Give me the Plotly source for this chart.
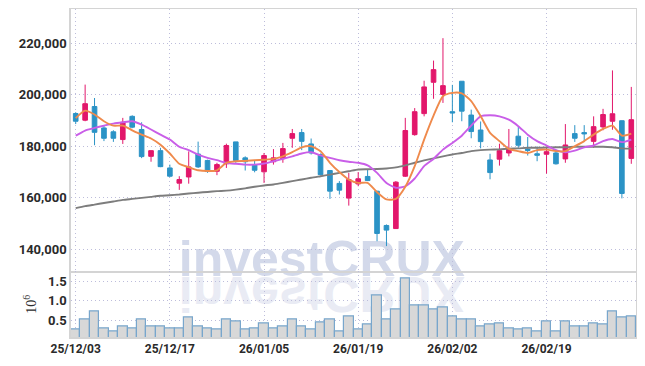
import plotly.graph_objects as go
from plotly.subplots import make_subplots

dates = ["25/12/03","25/12/04","25/12/05","25/12/08","25/12/09","25/12/10","25/12/11","25/12/12","25/12/15","25/12/16",
         "25/12/17","25/12/18","25/12/19","25/12/22","25/12/23","25/12/24","25/12/26","25/12/29","25/12/30","26/01/02",
         "26/01/05","26/01/06","26/01/07","26/01/08","26/01/09","26/01/12","26/01/13","26/01/14","26/01/15","26/01/16",
         "26/01/19","26/01/20","26/01/21","26/01/22","26/01/23","26/01/26","26/01/27","26/01/28","26/01/29","26/01/30",
         "26/02/02","26/02/03","26/02/04","26/02/05","26/02/06","26/02/09","26/02/10","26/02/11","26/02/12","26/02/13",
         "26/02/19","26/02/20","26/02/23","26/02/24","26/02/25","26/02/26","26/02/27","26/03/03","26/03/04","26/03/05"]

open_ = [192700,190100,195400,187100,185600,182600,191600,186500,176100,178300,
         171600,165700,168100,177000,174500,170300,173200,181700,175500,172900,
         170100,174000,175200,183100,185300,180900,176800,170600,165600,159900,
         165400,168300,162600,149300,148100,168400,184500,192650,204800,200100,
         193400,205200,192100,186300,174700,175000,177400,183900,178900,177100,
         176900,177400,175100,184900,185300,181900,187500,189700,189900,175300]
high = [193200,203900,198700,188000,186200,191000,192000,189300,178400,179400,
        172900,168400,178000,181800,174800,173600,181000,181700,176100,174600,
        177400,178900,181300,186700,186700,183000,177200,170600,166500,169700,
        170000,171000,162700,149700,166500,191000,194800,205400,213200,221900,
        203800,205200,194200,189600,177100,181000,186700,187500,183600,179900,
        179900,178700,188600,188200,188200,191600,194500,209400,190000,203000]
low = [188600,189700,180400,182000,181700,180900,187000,175400,174000,171900,
       168000,163100,165500,171600,169700,168800,171600,173600,170600,169900,
       165800,172900,173600,179400,178500,176800,168700,159600,161300,157000,
       164500,166500,143200,141300,148000,168100,184100,191600,198400,196800,
       189300,189700,183100,179200,167200,172500,176100,179400,176400,174200,
       169400,172900,173600,181700,182000,179400,186200,186400,159800,173200]
close = [189700,196500,185400,183100,183100,189300,187400,176000,178300,172100,
         168400,167100,172000,172000,170200,172900,180300,174500,174000,170700,
         176400,175500,179100,184900,181900,177400,169000,162600,163000,167100,
         167400,166700,146200,147500,166100,186100,193400,203000,209700,203500,
         192900,193600,185700,181800,169800,178300,178900,180400,178400,176500,
         177900,173200,180500,183100,184800,187600,192300,192600,161700,190300]

ma5 = [190900,193800,192300,189700,188000,188000,186200,184500,183000,180600,
       177200,173200,171900,170700,170400,170700,173600,174200,174300,174600,
       174800,175100,176100,177700,179600,180000,178100,173600,170000,167100,
       165800,165800,162200,159400,159600,164300,172300,182600,191900,199400,
       200700,200500,197500,191700,185200,182000,179000,178100,177400,178500,
       178700,178100,178100,180000,182000,184500,186700,188000,184100,184900]
ma20 = [184100,186100,187100,188000,188800,189300,189700,188400,186500,184500,
        182600,179800,178500,176800,175500,174600,173600,173200,172900,172900,
        173300,174200,175100,176100,177200,177700,176500,175500,174600,174000,
        173600,172600,169700,165800,163900,164500,167500,172300,175100,178700,
        181300,184100,188000,191600,192000,191600,190300,187800,184500,182000,
        180300,178500,177700,178300,179600,180300,182000,182800,181600,182600]
ma60 = [156000,156800,157400,158000,158600,159200,159600,160000,160400,160800,
        161000,161300,161700,162000,162300,162600,162800,163200,163700,164300,
        164800,165200,165800,166500,167100,167800,168400,169000,169700,170300,
        171000,171100,171200,171400,171800,172600,173600,174500,175300,176100,
        176800,177400,178100,178500,178700,178800,179100,179200,179400,179400,
        179500,179600,179600,179800,179800,179800,179800,179600,179200,179100]

volume_m = [0.25,0.51,0.72,0.28,0.22,0.35,0.30,0.53,0.33,0.33,
            0.28,0.28,0.56,0.33,0.28,0.25,0.51,0.46,0.25,0.30,
            0.41,0.30,0.35,0.53,0.33,0.25,0.43,0.51,0.22,0.61,
            0.25,0.38,1.14,0.51,0.79,1.59,0.87,0.87,0.77,0.82,
            0.59,0.51,0.51,0.33,0.38,0.41,0.30,0.25,0.30,0.22,
            0.48,0.20,0.46,0.35,0.33,0.41,0.38,0.72,0.56,0.61]

price_ticks = [140000, 160000, 180000, 200000, 220000]
volume_ticks = [0.5, 1.0, 1.5]
x_tick_dates = dates[::10]

UP = "#e2176b"
DOWN = "#2b93c6"
GRID = "#bdbddb"
GRIDDASH = "1px,3px"
FRAME = "#d4d4d4"
TICKFONT = dict(family="Roboto", size=13, color="#2a2a2a", weight="bold")

fig = make_subplots(rows=2, cols=1, shared_xaxes=True, vertical_spacing=0,
                    row_heights=[0.8, 0.2])

fig.add_trace(go.Candlestick(
    x=dates, open=open_, high=high, low=low, close=close,
    increasing=dict(line=dict(color=UP, width=1), fillcolor=UP),
    decreasing=dict(line=dict(color=DOWN, width=1), fillcolor=DOWN),
    whiskerwidth=0, showlegend=False, hoverinfo="skip"), row=1, col=1)

for vals, col in [(ma60, "#7d7d7d"), (ma20, "#c95ee8"), (ma5, "#ef8a4c")]:
    fig.add_trace(go.Scatter(x=dates, y=vals, mode="lines",
                             line=dict(color=col, width=1.9, shape="spline", smoothing=0.6),
                             showlegend=False, hoverinfo="skip"), row=1, col=1)

fig.add_trace(go.Bar(x=dates, y=volume_m,
                     marker=dict(color="#d8d8d8", line=dict(color="#78a6cc", width=1.2)),
                     showlegend=False, hoverinfo="skip"), row=2, col=1)

common_x = dict(type="category", range=[-0.5, len(dates) - 0.5], automargin=False,
                tickvals=x_tick_dates, ticktext=x_tick_dates,
                showgrid=True, gridcolor=GRID, griddash=GRIDDASH, gridwidth=1,
                showline=True, linecolor=FRAME, linewidth=1.5,
                rangeslider=dict(visible=False), ticks="", zeroline=False)
fig.update_xaxes(**common_x)
fig.update_xaxes(showticklabels=False, mirror=True, row=1, col=1)
fig.update_xaxes(showticklabels=True, mirror=False,
                 tickfont=dict(family="Roboto", size=12, color="#2a2a2a", weight="bold"),
                 row=2, col=1)

fig.update_yaxes(range=[131500, 233200], tickvals=price_ticks, automargin=False,
                 tickformat=",d", tickfont=TICKFONT,
                 showgrid=True, gridcolor=GRID, griddash=GRIDDASH, gridwidth=1,
                 showline=True, linecolor=FRAME, linewidth=1.5, mirror=True,
                 zeroline=False, ticks="", row=1, col=1)
fig.update_yaxes(range=[0.065, 1.76], tickvals=volume_ticks, tickformat=".1f",
                 tickfont=TICKFONT, automargin=False,
                 title=dict(text="10<sup>6</sup>", standoff=8,
                            font=dict(family="Liberation Serif", size=14, color="#2b2b2b")),
                 showgrid=True, gridcolor=GRID, griddash=GRIDDASH, gridwidth=1,
                 showline=True, linecolor=FRAME, linewidth=1.5, mirror=True,
                 zeroline=False, ticks="", row=2, col=1)

# watermark (below gridlines and traces)
fig.add_shape(type="rect", xref="paper", yref="paper",
              x0=0.2, x1=0.688, y0=0.2, y1=0.3055, layer="below",
              line=dict(width=0), fillcolor="rgba(0,0,0,0)",
              label=dict(text="investCRUX", textposition="middle center",
                         font=dict(family="Liberation Sans", size=50, color="#d3d9ea",
                                   weight="bold")))

# page body keeps an 8px margin, so the figure is sized to fit the 645x366 window
fig.update_layout(width=637, height=358, margin=dict(l=63, r=9, t=1, b=28.5, autoexpand=False),
                  paper_bgcolor="white", plot_bgcolor="white",
                  bargap=0, showlegend=False)

post_js = """
(function(){
  var gd = document.getElementById('{plot_id}');
  function mirror(){
    var texts = gd.querySelectorAll('text');
    for (var i = 0; i < texts.length; i++) {
      var t = texts[i];
      if (t.textContent === 'investCRUX' && !t.getAttribute('data-m')) {
        t.setAttribute('data-m', '1');
        var bb = t.getBBox();
        var b = bb.y + bb.height * 0.81;
        var c = t.cloneNode(true);
        c.setAttribute('data-m', '1');
        c.style.fill = '#e9ebf4';
        c.setAttribute('transform', 'translate(0,' + (2 * b) + ') scale(1,-1)');
        t.parentNode.insertBefore(c, t);
      }
    }
  }
  mirror();
})();
"""

fig.write_html("out.html", post_script=post_js)
